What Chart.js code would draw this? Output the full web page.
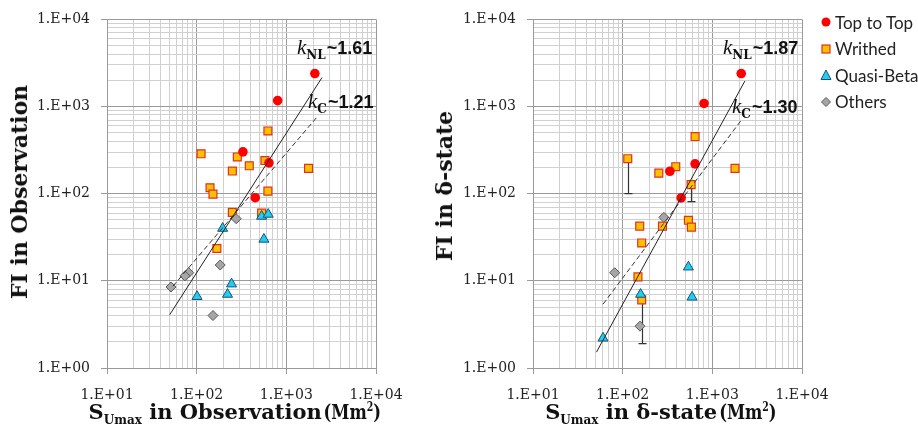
<!DOCTYPE html>
<html>
<head>
<meta charset="utf-8">
<script src="https://cdn.jsdelivr.net/npm/chart.js@4/dist/chart.umd.min.js"></script>
<style>
  body { margin: 0; background: #fff; }
  #wrap { position: relative; width: 918px; height: 439px; overflow: hidden; }
  canvas { position: absolute; top: 0; }
  .ytitle, .xtitle { position: absolute; font-family: 'DejaVu Serif', serif; font-weight: bold; font-size: 22px; color: #111; white-space: nowrap; }
  .ytitle { transform: translate(-50%, -50%) rotate(-90deg); }
  .xtitle { transform: translate(-50%, -50%); font-size: 21px; }
  .xtitle sub { font-size: 12px; vertical-align: -5px; }
  .xtitle .unit { display: inline-block; transform: scaleX(0.78); transform-origin: left center; margin-left: 2px; margin-right: -14px; }
  .xtitle sup { font-size: 12px; vertical-align: 8px; }
  .klab { position: absolute; font-family: 'Liberation Sans', Arial, sans-serif; font-weight: bold; font-size: 18px; line-height: 20px; color: #111; white-space: nowrap; }
  .klab i { font-family: 'Liberation Serif', serif; font-size: 21px; font-weight: normal; }
  .klab sub { font-family: 'DejaVu Serif', serif; font-size: 12px; font-weight: bold; vertical-align: -5px; margin-right: 1px; }
  #legend { position: absolute; left: 820px; top: 9px; font-family: Lato, 'Liberation Sans', sans-serif; font-size: 17px; color: #222; white-space: nowrap; width: 100px; }
  #legend div { height: 26.5px; display: flex; align-items: center; }
  #legend svg { margin-right: 3px; flex: none; }
</style>
</head>
<body>
<div id="wrap">
  <canvas id="obsChart" width="420" height="439" style="left:0"></canvas>
  <canvas id="deltaChart" width="420" height="439" style="left:426px"></canvas>

  <div class="ytitle" style="left:19px; top:192px">FI in Observation</div>
  <div class="ytitle" style="left:444px; top:186px">FI in δ-state</div>
  <div class="xtitle" style="left:236px; top:413px">S<sub>Umax</sub> in Observation<span class="unit">(Mm<sup>2</sup>)</span></div>
  <div class="xtitle" style="left:662px; top:413px">S<sub>Umax</sub> in δ-state<span class="unit">(Mm<sup>2</sup>)</span></div>

  <div class="klab" style="left:297px; top:37px"><i>k</i><sub>NL</sub>~1.61</div>
  <div class="klab" style="left:308px; top:91px"><i>k</i><sub>C</sub>~1.21</div>
  <div class="klab" style="left:723px; top:37px"><i>k</i><sub>NL</sub>~1.87</div>
  <div class="klab" style="left:732px; top:96px"><i>k</i><sub>C</sub>~1.30</div>

  <div id="legend">
    <div><svg width="12" height="12"><circle cx="6" cy="6" r="4.5" fill="#ff0000"/></svg>Top to Top</div>
    <div><svg width="12" height="12"><rect x="2" y="2" width="8" height="8" fill="#ffc000" stroke="#e03020" stroke-width="1.2"/></svg>Writhed</div>
    <div><svg width="12" height="12"><polygon points="6,1 11,10.5 1,10.5" fill="#1ed0f0" stroke="#1f4e79" stroke-width="1"/></svg>Quasi-Beta</div>
    <div><svg width="12" height="12"><polygon points="6,1.5 10.5,6 6,10.5 1.5,6" fill="#a6a6a6" stroke="#595959" stroke-width="1"/></svg>Others</div>
  </div>
</div>

<script>
// 観測時のデータ (左のグラフ)
const obsTopX = [2080, 800, 328, 640, 450];
const obsTopY = [2390, 1170, 302, 226, 90];
const obsWriX = [112, 284, 386, 577, 623, 250, 1770, 141, 152, 623, 250, 530, 168];
const obsWriY = [287, 264, 209, 240, 525, 182, 195, 117, 99, 107, 61, 60, 23.5];
const obsQbX = [195, 530, 628, 562, 245, 221, 101];
const obsQbY = [40, 55, 58, 30, 9.2, 7.0, 6.6];
const obsOthX = [276, 183, 81.5, 74, 51.7, 152];
const obsOthY = [51.6, 15.2, 12.4, 11.4, 8.5, 4.0];
const obsNLX = [50, 2500];
const obsNLY = [4.08, 2150];
const obsCX = [54.5, 2180];
const obsCY = [8.7, 750];

// δ-state のデータ (右のグラフ)
const dTopX = [2100, 808, 336, 642, 449];
const dTopY = [2390, 1086, 181, 220, 89.6];
const dWriX = [114, 253, 391, 642, 1790, 580, 155, 278, 541, 584, 163, 148, 163];
const dWriY = [252, 172, 204, 453, 195, 127, 42.5, 42.5, 49.5, 41.4, 27.2, 11.1, 6.05];
const dWriLow = [100, null, null, null, null, 81, null, null, null, null, null, null, 1.9]; // 誤差棒の下端
const dQbX = [60.4, 158.5, 541, 594];
const dQbY = [2.2, 7.0, 14.4, 6.5];
const dOthX = [288, 81.5, 156];
const dOthY = [53.5, 12.4, 3.02];
const dNLX = [51, 2307];
const dNLY = [1.52, 1963];
const dCX = [60.4, 2083];
const dCY = [5.4, 688];

const zip = (xs, ys) => xs.map((x, i) => ({ x: x, y: ys[i] }));
const isPow10 = v => Math.abs(Math.log10(v) - Math.round(Math.log10(v))) < 1e-9;
const expLabel = v => '1.E+' + String(Math.round(Math.log10(v))).padStart(2, '0');

function logTicks(min, max) {
    const out = [];
    for (let e = Math.round(Math.log10(min)); e < Math.round(Math.log10(max)); e++) {
        for (let m = 1; m <= 9; m++) out.push(m * Math.pow(10, e));
    }
    out.push(max);
    return out;
}

function logAxis(min, max, isX) {
    return {
        type: 'logarithmic',
        position: isX ? 'bottom' : 'left',
        min: min,
        max: max,
        afterBuildTicks: s => { s.ticks = logTicks(min, max).map(v => ({ value: v })); },
        afterFit: s => { if (isX) s.height = 71; else s.width = 107; },
        ticks: {
            autoSkip: false, maxRotation: 0, minRotation: 0,
            padding: isX ? 13 : 11,
            color: '#222',
            font: { family: 'DejaVu Serif', size: 14 },
            callback: v => isPow10(v) ? expLabel(v) : ''
        },
        grid: {
            color: c => (c.tick && isPow10(c.tick.value)) ? '#9a9a9a' : '#d0d0d0',
            tickColor: c => (c.tick && isPow10(c.tick.value)) ? '#9a9a9a' : 'rgba(0,0,0,0)',
            tickLength: 6,
            lineWidth: 1
        },
        border: { color: '#9a9a9a' }
    };
}

// 誤差棒を描くプラグイン
const errorBarPlugin = {
    id: 'errorBars',
    beforeDatasetsDraw(chart, args, opts) {
        const bars = opts.bars || [];
        const ctx = chart.ctx;
        const xs = chart.scales.x, ys = chart.scales.y;
        ctx.save();
        ctx.strokeStyle = '#333';
        ctx.lineWidth = 1.2;
        bars.forEach(b => {
            const px = Math.round(xs.getPixelForValue(b.x)) + 0.5;
            const p1 = ys.getPixelForValue(b.y);
            const p2 = ys.getPixelForValue(b.low);
            ctx.beginPath();
            ctx.moveTo(px, p1);
            ctx.lineTo(px, p2);
            ctx.moveTo(px - 4, p2);
            ctx.lineTo(px + 4, p2);
            ctx.stroke();
        });
        ctx.restore();
    }
};

function makeDatasets(top, wri, qb, oth, nl, c) {
    return [
        { label: 'kNL', data: nl, showLine: true, pointRadius: 0, borderColor: '#222', borderWidth: 1, order: 0 },
        { label: 'kC', data: c, showLine: true, pointRadius: 0, borderColor: '#333', borderWidth: 1, borderDash: [5, 3], order: 0 },
        { label: 'Quasi-Beta', data: qb, pointStyle: 'triangle', pointRadius: 5.8, backgroundColor: '#1ed0f0', borderColor: '#1f4e79', borderWidth: 1, order: 1 },
        { label: 'Others', data: oth, pointStyle: 'rectRot', pointRadius: 5, backgroundColor: '#a6a6a6', borderColor: '#595959', borderWidth: 1, order: 2 },
        { label: 'Top to Top', data: top, pointStyle: 'circle', pointRadius: 4.8, backgroundColor: '#ff0000', borderColor: '#ff0000', borderWidth: 0, order: 3 },
        { label: 'Writhed', data: wri, pointStyle: 'rect', pointRadius: 5.6, backgroundColor: '#ffc000', borderColor: '#e03020', borderWidth: 1.2, order: 4 }
    ];
}

function drawChart(id, datasets, bars, yMin, yMax) {
    const ctx = document.getElementById(id).getContext('2d');
    return new Chart(ctx, {
        type: 'scatter',
        data: { datasets: datasets },
        options: {
            responsive: false,
            animation: false,
            devicePixelRatio: 1,
            layout: { padding: { left: 0, right: 44, top: 11, bottom: 0 } },
            scales: {
                x: logAxis(10, 10000, true),
                y: logAxis(yMin, yMax, false)
            },
            plugins: {
                legend: { display: false },
                tooltip: { enabled: false },
                errorBars: { bars: bars }
            }
        },
        plugins: [errorBarPlugin]
    });
}

drawChart('obsChart',
    makeDatasets(zip(obsTopX, obsTopY), zip(obsWriX, obsWriY), zip(obsQbX, obsQbY),
                 zip(obsOthX, obsOthY), zip(obsNLX, obsNLY), zip(obsCX, obsCY)),
    [], 1, 10000);

const dBars = dWriLow.map((low, i) => low === null ? null : { x: dWriX[i], y: dWriY[i], low: low }).filter(b => b);
drawChart('deltaChart',
    makeDatasets(zip(dTopX, dTopY), zip(dWriX, dWriY), zip(dQbX, dQbY),
                 zip(dOthX, dOthY), zip(dNLX, dNLY), zip(dCX, dCY)),
    dBars, 1, 10000);
</script>
</body>
</html>
